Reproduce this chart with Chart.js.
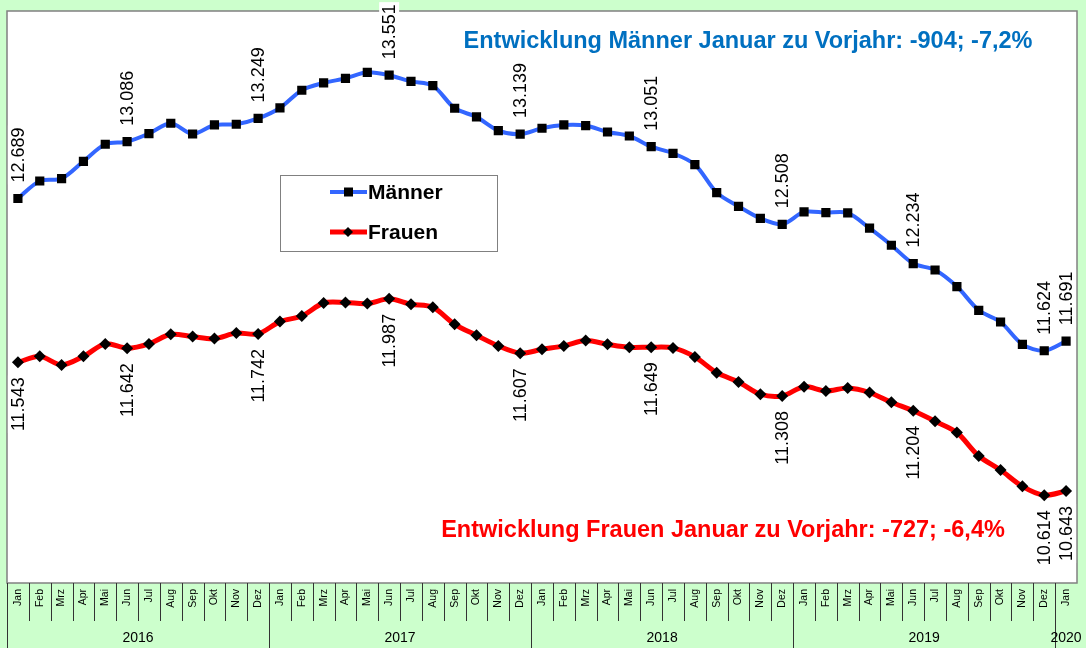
<!DOCTYPE html>
<html lang="de">
<head>
<meta charset="utf-8">
<script src="https://cdn.jsdelivr.net/npm/chart.js@4.4.1/dist/chart.umd.min.js"></script>
<style>
  html, body { margin: 0; padding: 0; background: #ccffcc; }
  #wrap { width: 1086px; height: 648px; }
</style>
</head>
<body>
<div id="wrap"><canvas id="chart" width="1086" height="648"></canvas></div>
<script>
// Monate / Jahre
const monate = ['Jan', 'Feb', 'Mrz', 'Apr', 'Mai', 'Jun', 'Jul', 'Aug', 'Sep', 'Okt', 'Nov', 'Dez'];
const jahre = ['2016', '2017', '2018', '2019', '2020'];

// Werte Jan 2016 bis Jan 2020
const maenner = [
  12689, 12811, 12828, 12949, 13068, 13086, 13143, 13215, 13140, 13203, 13208, 13249,
  13322, 13446, 13497, 13529, 13571, 13551, 13508, 13478, 13320, 13259, 13164, 13139,
  13180, 13203, 13199, 13154, 13126, 13051, 13005, 12926, 12730, 12634, 12550, 12508,
  12595, 12590, 12588, 12481, 12362, 12234, 12189, 12073, 11907, 11825, 11669, 11624,
  11691
];
const frauen = [
  11543, 11585, 11525, 11585, 11672, 11642, 11672, 11739, 11723, 11709, 11748, 11742,
  11828, 11867, 11958, 11961, 11954, 11987, 11949, 11928, 11809, 11732, 11658, 11607,
  11634, 11658, 11695, 11669, 11648, 11649, 11644, 11581, 11471, 11406, 11320, 11308,
  11373, 11343, 11364, 11332, 11264, 11204, 11131, 11052, 10888, 10790, 10676, 10614,
  10643
];

// Punkte mit Beschriftung (Jan, Jun, Dez ... letzter Jan)
const beschriftet = [0, 5, 11, 17, 23, 29, 35, 41, 47, 48];

const textMaenner = 'Entwicklung Männer Januar zu Vorjahr: -904; -7,2%';
const textFrauen = 'Entwicklung Frauen Januar zu Vorjahr: -727; -6,4%';

// Achsenbeschriftungen zusammenbauen
const labels = [];
jahre.forEach((j, k) => {
  monate.forEach((m, i) => {
    if (k < jahre.length - 1 || i === 0) labels.push(m);
  });
});

const FONT = '"Liberation Sans", Arial, sans-serif';

function formatDe(v) {
  return Math.floor(v / 1000) + '.' + String(v % 1000).padStart(3, '0');
}

// Hintergrund, Rahmen, Trennstriche, Jahreszahlen
const hintergrund = {
  id: 'hintergrund',
  beforeDraw(chart) {
    const { ctx, chartArea: a, width, height } = chart;
    ctx.save();
    ctx.fillStyle = '#ccffcc';
    ctx.fillRect(0, 0, width, height);
    ctx.fillStyle = '#ffffff';
    ctx.fillRect(a.left, a.top, a.right - a.left, a.bottom - a.top);
    ctx.strokeStyle = '#808080';
    ctx.lineWidth = 1.5;
    ctx.strokeRect(a.left, a.top, a.right - a.left, a.bottom - a.top);
    ctx.restore();
  },
  afterDraw(chart) {
    const { ctx, chartArea: a, height } = chart;
    const xs = chart.scales.x;
    const step = xs.getPixelForValue(1) - xs.getPixelForValue(0);
    ctx.save();
    ctx.strokeStyle = '#333333';
    ctx.lineWidth = 1;
    for (let i = 0; i < labels.length; i++) {
      const x = Math.round(xs.getPixelForValue(i) - step / 2) + 0.5;
      ctx.beginPath();
      ctx.moveTo(x, a.bottom);
      ctx.lineTo(x, i % 12 === 0 ? height : a.bottom + 38);
      ctx.stroke();
    }
    ctx.fillStyle = '#000';
    ctx.font = '14px ' + FONT;
    ctx.textAlign = 'center';
    ctx.textBaseline = 'middle';
    jahre.forEach((j, k) => {
      const von = k * 12;
      const bis = Math.min(von + 11, labels.length - 1);
      const x = (xs.getPixelForValue(von) + xs.getPixelForValue(bis)) / 2;
      ctx.fillText(j, Math.min(x, chart.width - 17), a.bottom + 55);
    });
    ctx.restore();
  }
};

// Werte an ausgewählten Punkten, senkrecht
const wertLabels = {
  id: 'wertLabels',
  afterDatasetsDraw(chart) {
    const ctx = chart.ctx;
    ctx.save();
    ctx.font = '18px ' + FONT;
    chart.data.datasets.forEach((ds, di) => {
      const meta = chart.getDatasetMeta(di);
      beschriftet.forEach(i => {
        const pt = meta.data[i];
        const text = formatDe(ds.data[i]);
        const w = ctx.measureText(text).width;
        const x0 = di === 0 ? 16 : -15 - w;
        ctx.save();
        ctx.translate(pt.x, pt.y);
        ctx.rotate(-Math.PI / 2);
        ctx.fillStyle = '#ffffff';
        ctx.fillRect(x0 - 2, -10, w + 4, 20);
        ctx.fillStyle = '#000000';
        ctx.textAlign = 'left';
        ctx.textBaseline = 'middle';
        ctx.fillText(text, x0, 1);
        ctx.restore();
      });
    });

    // Hinweistexte
    ctx.font = 'bold 23.5px ' + FONT;
    ctx.textAlign = 'center';
    ctx.textBaseline = 'middle';
    ctx.fillStyle = '#0070c0';
    ctx.fillText(textMaenner, 748, 42);
    ctx.fillStyle = '#ff0000';
    ctx.fillText(textFrauen, 723, 531);

    // Legende
    ctx.fillStyle = '#ffffff';
    ctx.fillRect(280, 175, 217, 76);
    ctx.strokeStyle = '#808080';
    ctx.lineWidth = 1;
    ctx.strokeRect(280.5, 175.5, 217, 76);
    chart.data.datasets.forEach((ds, di) => {
      const y = di === 0 ? 192 : 232;
      ctx.strokeStyle = ds.borderColor;
      ctx.lineWidth = ds.borderWidth;
      ctx.beginPath();
      ctx.moveTo(330, y);
      ctx.lineTo(367, y);
      ctx.stroke();
      ctx.fillStyle = '#000';
      ctx.beginPath();
      if (di === 0) {
        ctx.rect(344, y - 4.5, 9, 9);
      } else {
        ctx.moveTo(348, y - 5);
        ctx.lineTo(353, y);
        ctx.lineTo(348, y + 5);
        ctx.lineTo(343, y);
        ctx.closePath();
      }
      ctx.fill();
      ctx.font = 'bold 21px ' + FONT;
      ctx.textAlign = 'left';
      ctx.fillText(ds.label, 368, y + 1);
    });
    ctx.restore();
  }
};

new Chart(document.getElementById('chart'), {
  type: 'line',
  data: {
    labels: labels,
    datasets: [
      {
        label: 'Männer',
        data: maenner,
        borderColor: '#3366ff',
        borderWidth: 4,
        pointStyle: 'rect',
        pointRadius: 6.5,
        pointBackgroundColor: '#000',
        pointBorderColor: '#000',
        pointBorderWidth: 0,
        tension: 0.3
      },
      {
        label: 'Frauen',
        data: frauen,
        borderColor: '#ff0000',
        borderWidth: 5,
        pointStyle: 'rectRot',
        pointRadius: 6,
        pointBackgroundColor: '#000',
        pointBorderColor: '#000',
        pointBorderWidth: 0,
        tension: 0.3
      }
    ]
  },
  options: {
    responsive: false,
    animation: false,
    devicePixelRatio: 1,
    layout: { padding: { top: 11, left: 7, right: 9, bottom: 0 } },
    plugins: {
      legend: { display: false },
      tooltip: { enabled: false }
    },
    scales: {
      x: {
        offset: true,
        grid: { display: false },
        border: { display: false },
        ticks: {
          autoSkip: false,
          minRotation: 90,
          maxRotation: 90,
          padding: -2,
          color: '#000',
          font: { family: FONT, size: 10.5 }
        },
        afterFit: (scale) => { scale.height = 65; }
      },
      y: {
        display: false,
        min: 10000,
        max: 14000
      }
    }
  },
  plugins: [hintergrund, wertLabels]
});
</script>
</body>
</html>
